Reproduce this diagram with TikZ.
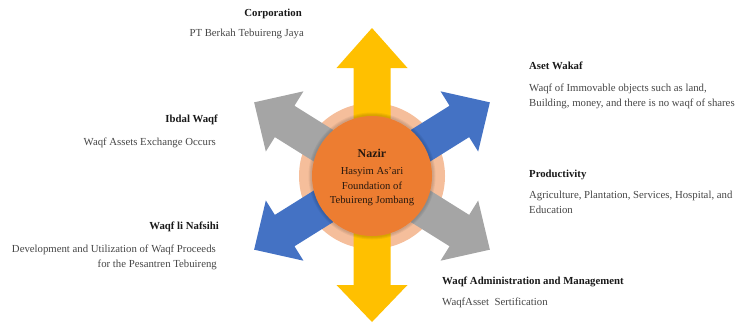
\documentclass[tikz,border=0pt]{standalone}
\usepackage{fontspec}
\setmainfont{Liberation Serif}

\definecolor{hubOrange}{HTML}{ED7D31}
\definecolor{ringPeach}{RGB}{245,190,155}
\definecolor{arrYellow}{HTML}{FFC000}
\definecolor{arrBlue}{HTML}{4472C4}
\definecolor{arrGray}{HTML}{A5A5A5}
\definecolor{titleInk}{RGB}{25,25,25}
\definecolor{bodyInk}{RGB}{70,70,70}
\definecolor{hubInk}{RGB}{40,25,15}

\tikzset{
  titletext/.style={font=\fontsize{10.8}{12}\selectfont\bfseries, text=titleInk, inner sep=0pt},
  bodytext/.style={font=\fontsize{10.8}{12}\selectfont, text=bodyInk, inner sep=0pt},
  hubtext/.style={font=\fontsize{10.7}{12}\selectfont, text=hubInk, inner sep=0pt, anchor=base},
}

% radial block arrow: #1 angle, #2 tip distance, #3 head base, #4 colour
\newcommand{\radialarrow}[4]{%
  \begin{scope}[shift={(hubcentre)}, rotate=#1]
    \fill[#4] (0,-18.5) -- (#3,-18.5) -- (#3,-35.5) -- (#2,0)
              -- (#3,35.5) -- (#3,18.5) -- (0,18.5) -- cycle;
  \end{scope}}

\begin{document}
\begin{tikzpicture}[x=1bp,y=-1bp]
  \useasboundingbox (0,0) rectangle (736,322);
  \coordinate (hubcentre) at (372,176);

  % pale halo behind the arrows
  \fill[ringPeach] (hubcentre) circle[radius=73];

  % six radiating arrows
  \radialarrow{90}{148}{108}{arrYellow}
  \radialarrow{-90}{146}{109}{arrYellow}
  \radialarrow{32}{139}{103}{arrBlue}
  \radialarrow{212}{139}{103}{arrBlue}
  \radialarrow{148}{139}{103}{arrGray}
  \radialarrow{-32}{139}{103}{arrGray}

  % soft shadow of the hub
  \foreach \r in {63.5,62.5,61.5}
    \fill[black, opacity=0.05] (hubcentre) circle[radius=\r];

  % hub
  \node[circle, fill=hubOrange, minimum size=120bp, inner sep=0pt] (hub) at (hubcentre) {};
  \node[hubtext, font=\fontsize{12}{12}\selectfont\bfseries] (hubtitle) at (372,157) {Nazir};
  \node[hubtext] (hubline1) at (372,174.5) {Hasyim As'ari};
  \node[hubtext] (hubline2) at (372,189.5) {Foundation of};
  \node[hubtext] (hubline3) at (372,203.5) {Tebuireng Jombang};

  % top
  \node[titletext, anchor=base east] (corpT) at (302,16.5) {Corporation};
  \node[bodytext, anchor=base east] (corpB) at (304,36.5) {PT Berkah Tebuireng Jaya};

  % upper right
  \node[titletext, anchor=base west] (asetT) at (529,69.5) {Aset Wakaf};
  \node[bodytext, anchor=base west] (asetB1) at (529,91) {Waqf of Immovable objects such as land,};
  \node[bodytext, anchor=base west] (asetB2) at (529,106) {Building, money, and there is no waqf of shares};

  % lower right
  \node[titletext, anchor=base west] (prodT) at (529,177) {Productivity};
  \node[bodytext, anchor=base west] (prodB1) at (529,198) {Agriculture, Plantation, Services, Hospital, and};
  \node[bodytext, anchor=base west] (prodB2) at (529,213) {Education};

  % upper left
  \node[titletext, anchor=base east] (ibdalT) at (218,122) {Ibdal Waqf};
  \node[bodytext, anchor=base east] (ibdalB) at (216,145) {Waqf Assets Exchange Occurs};

  % lower left
  \node[titletext, anchor=base east] (nafsT) at (219,229) {Waqf li Nafsihi};
  \node[bodytext, anchor=base east] (nafsB1) at (216,252) {Development and Utilization of Waqf Proceeds};
  \node[bodytext, anchor=base east] (nafsB2) at (217,267) {for the Pesantren Tebuireng};

  % bottom
  \node[titletext, anchor=base west] (adminT) at (442,284.5) {Waqf Administration and Management};
  \node[bodytext, anchor=base west] (adminB) at (442,305) {WaqfAsset\ \ Sertification};
\end{tikzpicture}
\end{document}
